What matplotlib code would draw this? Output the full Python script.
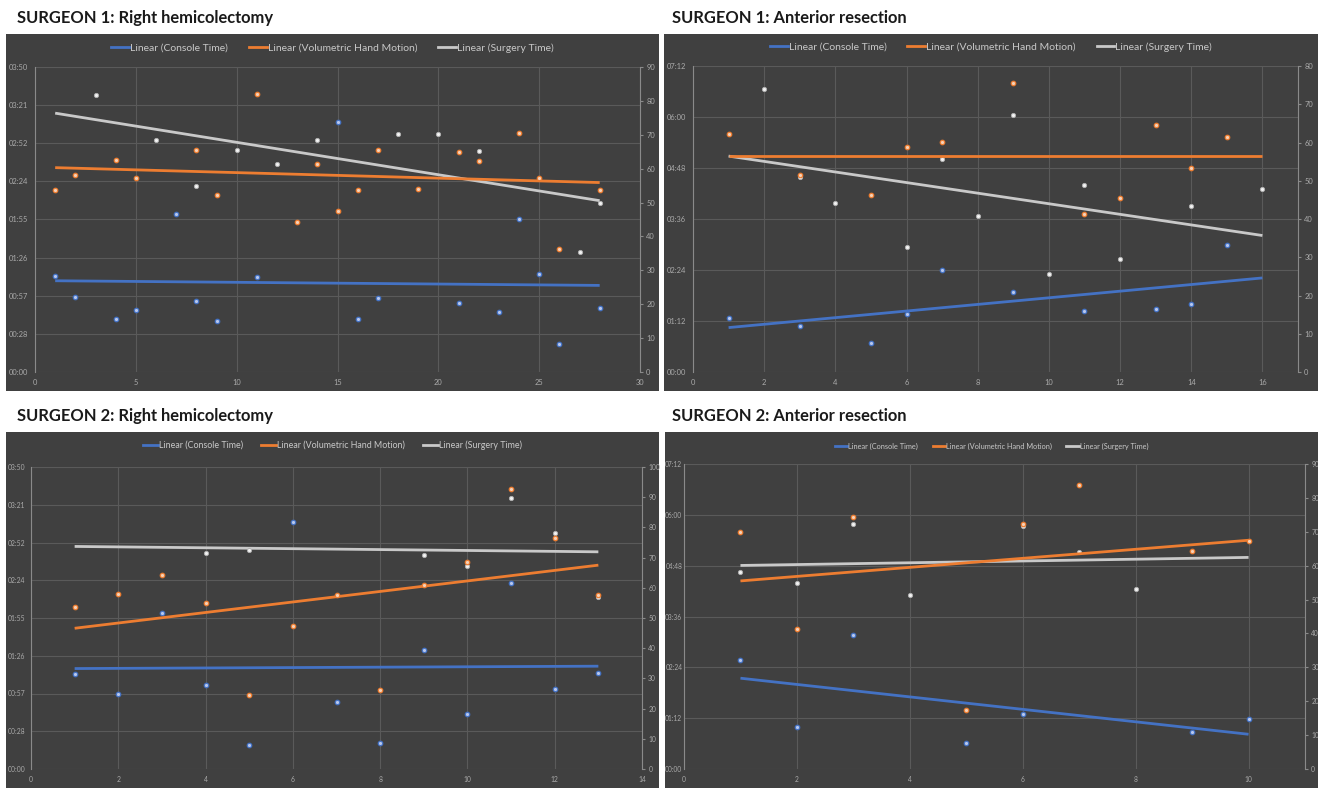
import numpy as np
import matplotlib
matplotlib.use("Agg")
import matplotlib.pyplot as plt
from matplotlib.lines import Line2D

# ---------------- DATA ----------------
# Surgeon 1: Right hemicolectomy (times in minutes, hand motion in right-axis units)
s1rh_console_x = [1, 2, 4, 5, 7, 8, 9, 11, 15, 16, 17, 21, 23, 24, 25, 26, 28]
s1rh_console = [72.6, 56.7, 39.6, 46.6, 119.2, 53.7, 38.5, 71.8, 188.7, 39.6, 55.9, 52.4, 45.6, 115.1, 73.8, 21.4, 48.6]
s1rh_hand_x = [1, 2, 4, 5, 8, 9, 11, 13, 14, 15, 16, 17, 19, 21, 22, 24, 25, 26, 28]
s1rh_hand = [53.8, 58.0, 62.6, 57.1, 65.5, 52.3, 82.0, 44.2, 61.4, 47.5, 53.7, 65.6, 54.0, 64.8, 62.4, 70.5, 57.2, 36.4, 53.8]
s1rh_surgery_x = [3, 6, 8, 10, 12, 14, 18, 20, 22, 27, 28]
s1rh_surgery = [209.1, 174.8, 140.1, 167.3, 156.9, 174.8, 179.1, 179.1, 166.3, 90.2, 127.5]
s1rh_trend_x = [1, 28]
s1rh_trend_console = [68.8, 65.3]
s1rh_trend_hand = [60.3, 55.9]
s1rh_trend_surgery = [195.2, 129.2]
s1rh_left_labels = ["00:00", "00:28", "00:57", "01:26", "01:55", "02:24", "02:52", "03:21", "03:50"]
s1rh_left_max = 230
s1rh_right_max = 90
s1rh_xmax = 30
s1rh_xstep = 5

# Surgeon 1: Anterior resection
s1ar_console_x = [1, 3, 5, 6, 7, 9, 11, 13, 14, 15]
s1ar_console = [75.8, 64.5, 41.0, 81.5, 144.6, 112.6, 86.2, 89.0, 96.6, 179.5]
s1ar_hand_x = [1, 3, 5, 6, 7, 9, 11, 12, 13, 14, 15]
s1ar_hand = [62.2, 51.6, 46.2, 58.7, 60.1, 75.5, 41.4, 45.6, 64.7, 53.4, 61.5]
s1ar_surgery_x = [2, 3, 4, 6, 7, 8, 9, 10, 11, 12, 14, 16]
s1ar_surgery = [399.5, 275.0, 237.9, 176.2, 300.1, 220.0, 362.7, 139.0, 263.3, 159.2, 234.6, 257.7]
s1ar_trend_x = [1, 16]
s1ar_trend_console = [62.7, 132.8]
s1ar_trend_hand = [56.4, 56.4]
s1ar_trend_surgery = [304.8, 192.7]
s1ar_left_labels = ["00:00", "01:12", "02:24", "03:36", "04:48", "06:00", "07:12"]
s1ar_left_max = 432
s1ar_right_max = 80
s1ar_xmax = 17
s1ar_xstep = 2

# Surgeon 2: Right hemicolectomy
s2rh_console_x = [1, 2, 3, 4, 5, 6, 7, 8, 9, 10, 11, 12, 13]
s2rh_console = [72.4, 56.9, 118.9, 63.8, 18.6, 188.3, 51.1, 19.6, 90.5, 42.2, 141.8, 60.7, 73.4]
s2rh_hand_x = [1, 2, 3, 4, 5, 6, 7, 8, 9, 10, 11, 12, 13]
s2rh_hand = [53.6, 57.8, 64.1, 55.0, 24.5, 47.4, 57.5, 26.3, 60.9, 68.4, 92.8, 76.4, 57.5]
s2rh_surgery_x = [4, 5, 9, 10, 11, 12, 13]
s2rh_surgery = [164.4, 167.0, 162.7, 154.3, 206.1, 179.7, 130.9]
s2rh_trend_x = [1, 13]
s2rh_trend_console = [76.5, 78.3]
s2rh_trend_hand = [46.6, 67.5]
s2rh_trend_surgery = [169.5, 165.4]
s2rh_left_labels = ["00:00", "00:28", "00:57", "01:26", "01:55", "02:24", "02:52", "03:21", "03:50"]
s2rh_left_max = 230
s2rh_right_max = 100
s2rh_xmax = 14
s2rh_xstep = 2

# Surgeon 2: Anterior resection
s2ar_console_x = [1, 2, 3, 5, 6, 9, 10]
s2ar_console = [154.1, 59.1, 190.5, 37.3, 78.0, 52.0, 71.4]
s2ar_hand_x = [1, 2, 3, 5, 6, 7, 9, 10]
s2ar_hand = [69.9, 41.2, 74.5, 17.4, 72.3, 83.7, 64.4, 67.4]
s2ar_surgery_x = [1, 2, 3, 4, 6, 7, 8]
s2ar_surgery = [278.4, 262.8, 347.4, 245.8, 343.6, 307.7, 254.8]
s2ar_trend_x = [1, 10]
s2ar_trend_console = [128.6, 49.2]
s2ar_trend_hand = [55.5, 67.5]
s2ar_trend_surgery = [288.3, 299.7]
s2ar_left_labels = ["00:00", "01:12", "02:24", "03:36", "04:48", "06:00", "07:12"]
s2ar_left_max = 432
s2ar_right_max = 90
s2ar_xmax = 11
s2ar_xstep = 2

titles = ["SURGEON 1: Right hemicolectomy", "SURGEON 1: Anterior resection",
          "SURGEON 2: Right hemicolectomy", "SURGEON 2: Anterior resection"]
legend_labels = ["Linear (Console Time)", "Linear (Volumetric Hand Motion)", "Linear (Surgery Time)"]

# ---------------- STYLE ----------------
W, H = 1318, 788
BG = "#404040"
GRID = "#5a5a5a"
AXLINE = "#8a8a8a"
TICKC = "#aaaaaa"
C_BLUE = "#4472C4"
C_ORANGE = "#ED7D31"
C_GRAY = "#c9c9c9"
FONT = "Lato"

fig = plt.figure(figsize=(W / 100, H / 100), dpi=100)
fig.patch.set_facecolor("white")


def frect(x0, y0, x1, y1):
    return [x0 / W, 1 - y1 / H, (x1 - x0) / W, (y1 - y0) / H]


panels = [
    dict(bg=(6, 34, 659, 391), ax=(35, 67, 640, 372), title=(17, 18), leg_y=48, leg_fs=7.5,
         tick_fs=5.4, ypad=5.0,
         d=(s1rh_console_x, s1rh_console, s1rh_hand_x, s1rh_hand, s1rh_surgery_x, s1rh_surgery,
            s1rh_trend_x, s1rh_trend_console, s1rh_trend_hand, s1rh_trend_surgery),
         left_labels=s1rh_left_labels, left_max=s1rh_left_max, right_max=s1rh_right_max,
         xmax=s1rh_xmax, xstep=s1rh_xstep),
    dict(bg=(664, 34, 1318, 391), ax=(693, 66, 1298, 372), title=(672, 18), leg_y=47, leg_fs=7.5,
         tick_fs=5.4, ypad=5.0,
         d=(s1ar_console_x, s1ar_console, s1ar_hand_x, s1ar_hand, s1ar_surgery_x, s1ar_surgery,
            s1ar_trend_x, s1ar_trend_console, s1ar_trend_hand, s1ar_trend_surgery),
         left_labels=s1ar_left_labels, left_max=s1ar_left_max, right_max=s1ar_right_max,
         xmax=s1ar_xmax, xstep=s1ar_xstep),
    dict(bg=(6, 432, 659, 788), ax=(31, 467, 642, 769), title=(17, 416), leg_y=445, leg_fs=6.4,
         tick_fs=4.9, ypad=4.2,
         d=(s2rh_console_x, s2rh_console, s2rh_hand_x, s2rh_hand, s2rh_surgery_x, s2rh_surgery,
            s2rh_trend_x, s2rh_trend_console, s2rh_trend_hand, s2rh_trend_surgery),
         left_labels=s2rh_left_labels, left_max=s2rh_left_max, right_max=s2rh_right_max,
         xmax=s2rh_xmax, xstep=s2rh_xstep),
    dict(bg=(665, 432, 1318, 788), ax=(684, 464, 1305, 769), title=(672, 416), leg_y=446, leg_fs=5.3,
         tick_fs=4.8, ypad=1.2,
         d=(s2ar_console_x, s2ar_console, s2ar_hand_x, s2ar_hand, s2ar_surgery_x, s2ar_surgery,
            s2ar_trend_x, s2ar_trend_console, s2ar_trend_hand, s2ar_trend_surgery),
         left_labels=s2ar_left_labels, left_max=s2ar_left_max, right_max=s2ar_right_max,
         xmax=s2ar_xmax, xstep=s2ar_xstep),
]

for p, title in zip(panels, titles):
    bg = fig.add_axes(frect(*p["bg"]))
    bg.set_facecolor(BG)
    bg.set_xticks([]); bg.set_yticks([])
    for s in bg.spines.values():
        s.set_visible(False)
    bg.set_zorder(0)

    ax = fig.add_axes(frect(*p["ax"]))
    ax.set_facecolor("none")
    ax.set_zorder(1)
    ax2 = ax.twinx()
    ax2.set_zorder(2)

    (cx, cv, hx, hv, sx, sv, tx, tc, th, ts) = p["d"]
    n = len(p["left_labels"]) - 1
    lticks = np.linspace(0, p["left_max"], n + 1)
    ax.set_ylim(0, p["left_max"])
    ax.set_yticks(lticks)
    ax.set_yticklabels(p["left_labels"])
    ax.set_xlim(0, p["xmax"])
    ax.set_xticks(np.arange(0, p["xmax"] + 0.01, p["xstep"]))
    ax2.set_ylim(0, p["right_max"])
    ax2.set_yticks(np.arange(0, p["right_max"] + 1, 10))

    ax.grid(True, color=GRID, linewidth=0.8)
    ax.set_axisbelow(True)
    for s in ["top", "bottom", "right"]:
        ax.spines[s].set_visible(False)
    ax.spines["left"].set_color(AXLINE)
    ax.spines["left"].set_linewidth(0.8)
    for s in ["top", "bottom", "left"]:
        ax2.spines[s].set_visible(False)
    ax2.spines["right"].set_color(AXLINE)
    ax2.spines["right"].set_linewidth(0.8)

    fs = p["tick_fs"]
    ax.tick_params(axis="y", length=0, labelsize=fs, labelcolor=TICKC, pad=p["ypad"])
    ax.tick_params(axis="x", length=0, labelsize=fs, labelcolor=TICKC, pad=5)
    ax2.tick_params(axis="y", length=2.5, color=AXLINE, labelsize=fs, labelcolor=TICKC, pad=2)
    for lab in ax.get_xticklabels() + ax.get_yticklabels() + ax2.get_yticklabels():
        lab.set_family(FONT)

    # trendlines
    ax.plot(tx, tc, color=C_BLUE, lw=2.0, zorder=3, solid_capstyle="butt")
    ax2.plot(tx, th, color=C_ORANGE, lw=2.0, zorder=3, solid_capstyle="butt")
    ax.plot(tx, ts, color=C_GRAY, lw=2.0, zorder=3, solid_capstyle="butt")
    # points
    ax.plot(cx, cv, ls="none", marker="o", ms=3.2, mfc="#b8c8ee", mec=C_BLUE, mew=0.9, zorder=4)
    ax2.plot(hx, hv, ls="none", marker="o", ms=3.2, mfc="#f6d2b8", mec=C_ORANGE, mew=0.9, zorder=4)
    ax.plot(sx, sv, ls="none", marker="o", ms=3.0, mfc="#f2f2f2", mec="#b0b0b0", mew=0.7, zorder=4)

    # legend
    handles = [Line2D([], [], color=C_BLUE, lw=2.0),
               Line2D([], [], color=C_ORANGE, lw=2.0),
               Line2D([], [], color=C_GRAY, lw=2.0)]
    bx0, _, bx1, _ = p["bg"]
    leg = ax2.legend(handles, legend_labels, loc="center", ncol=3, frameon=False,
                     bbox_to_anchor=((bx0 + bx1) / 2 / W, 1 - p["leg_y"] / H),
                     bbox_transform=fig.transFigure,
                     handlelength=1.7, handletextpad=0.1, columnspacing=2.0,
                     prop={"family": FONT, "size": p["leg_fs"]})
    for t in leg.get_texts():
        t.set_color("#c8c8c8")

    fig.text(p["title"][0] / W, 1 - p["title"][1] / H, title, fontsize=11.9,
             fontweight="bold", family=FONT, color="#1a1a1a", va="center", ha="left")

fig.savefig("out.png", dpi=100, facecolor="white")
